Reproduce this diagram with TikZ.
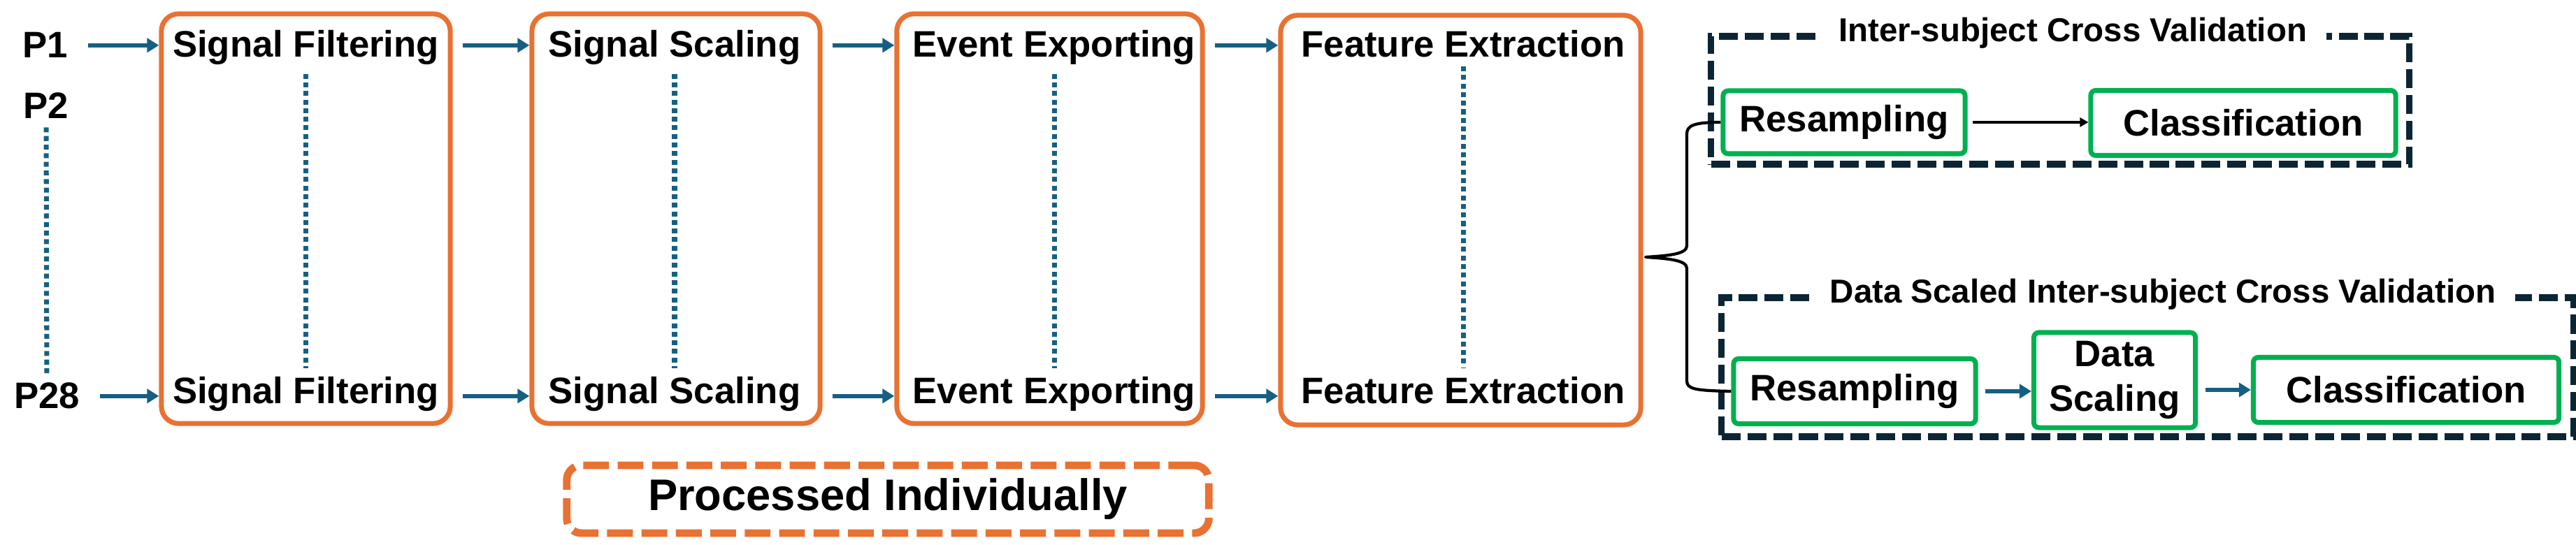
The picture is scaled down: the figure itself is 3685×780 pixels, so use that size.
\documentclass[tikz,border=0pt]{standalone}
\usepackage{fontspec}
\setmainfont{Liberation Sans}
\usetikzlibrary{arrows.meta, positioning}
\definecolor{stageorange}{HTML}{E97132}
\definecolor{flowblue}{HTML}{156082}
\definecolor{boxgreen}{HTML}{00B050}
\definecolor{framenavy}{HTML}{0B2535}
\tikzset{
  lbl/.style={font=\fontsize{15}{18}\selectfont\bfseries},
  pl/.style={lbl, inner xsep=8pt},
  stage/.style={draw=stageorange, line width=2pt, rounded corners=7pt,
                minimum height=5.86cm},
  fl/.style={-{Triangle[length=0.17cm, width=0.2cm]}, flowblue, line width=1.7pt},
  bk/.style={-{Triangle[length=0.12cm, width=0.13cm]}, black, line width=1.1pt},
  dots/.style={flowblue, line width=2pt, dash pattern=on 2pt off 1.5pt},
  gb/.style={draw=boxgreen, line width=2pt, rounded corners=2pt, lbl,
             align=center, inner sep=0pt},
  cv/.style={draw=framenavy, line width=2.6pt, dash pattern=on 7.7pt off 2.8pt},
  cvlbl/.style={fill=white, inner xsep=8pt, inner ysep=1pt,
                font=\fontsize{13.5}{16}\selectfont\bfseries},
  brc/.style={black, line width=1.2pt, line join=round},
  pi/.style={draw=stageorange, line width=3.1pt, rounded corners=6pt,
             dash pattern=on 10.5pt off 3.5pt,
             font=\fontsize{18}{21}\selectfont\bfseries},
}
\begin{document}
\begin{tikzpicture}[x=0.01cm, y=-0.01cm]
  \useasboundingbox (0,0) rectangle (3685,780);

  % participants
  \node[pl, anchor=base] (p1) at (65,83) {P1};
  \node[pl, anchor=base] (p2) at (66,170) {P2};
  \node[pl, anchor=base] (p28) at (67,585) {P28};
  \draw[dots] (p2) -- (p28);

  % processing stages
  \node[stage, minimum width=4.13cm] (box1) at (437.5,313) {};
  \node[stage, minimum width=4.12cm] (box2) at (967,313) {};
  \node[stage, minimum width=4.37cm] (box3) at (1501.5,313) {};
  \node[stage, minimum width=5.15cm] (box4) at (2089.5,315) {};

  \node[lbl, anchor=base] (sf1) at (437.5,82) {Signal Filtering};
  \node[lbl, anchor=base] (sf2) at (437.5,578) {Signal Filtering};
  \node[lbl, anchor=base] (ss1) at (965,82) {Signal Scaling};
  \node[lbl, anchor=base] (ss2) at (965,578) {Signal Scaling};
  \node[lbl, anchor=base] (ee1) at (1508,82) {Event Exporting};
  \node[lbl, anchor=base] (ee2) at (1508,578) {Event Exporting};
  \node[lbl, anchor=base] (fe1) at (2093,82) {Feature Extraction};
  \node[lbl, anchor=base] (fe2) at (2093,578) {Feature Extraction};

  \draw[dots] (sf1) -- (sf2);
  \draw[dots] (ss1) -- (ss2);
  \draw[dots] (ee1) -- (ee2);
  \draw[dots] (fe1) -- (fe2);

  \draw[fl] (p1) -- (p1 -| box1.west);
  \draw[fl] (p28) -- (p28 -| box1.west);
  \draw[fl, shorten <=4pt] (box1.east |- p1) -- (box2.west |- p1);
  \draw[fl, shorten <=4pt] (box1.east |- p28) -- (box2.west |- p28);
  \draw[fl, shorten <=4pt] (box2.east |- p1) -- (box3.west |- p1);
  \draw[fl, shorten <=4pt] (box2.east |- p28) -- (box3.west |- p28);
  \draw[fl, shorten <=4pt] (box3.east |- p1) -- (box4.west |- p1);
  \draw[fl, shorten <=4pt] (box3.east |- p28) -- (box4.west |- p28);

  \node[pi, minimum width=9.18cm, minimum height=0.97cm] (proc) at (1270,714.5)
    {Processed Individually};

  % cross validation variants
  \node[cv, minimum width=9.98cm, minimum height=1.83cm] (cv1) at (2947,143.5) {};
  \node[cvlbl] (cv1t) at ([xshift=0.18cm]cv1.north) {Inter-subject Cross Validation};
  \node[gb, minimum width=3.46cm, minimum height=0.9cm] (rs1) at (2638,175) {Resampling};
  \node[gb, minimum width=4.36cm, minimum height=0.93cm] (cl1) at (3209,176) {Classification};
  \draw[bk, shorten <=2pt] (rs1.east) -- (rs1.east -| cl1.west);

  \node[cv, minimum width=12.18cm, minimum height=1.99cm] (cv2) at (3072,525.5) {};
  \node[cvlbl] (cv2t) at ([xshift=0.22cm]cv2.north) {Data Scaled Inter-subject Cross Validation};
  \node[gb, minimum width=3.46cm, minimum height=0.93cm] (rs2) at (2653,560) {Resampling};
  \node[gb, minimum width=2.31cm, minimum height=1.36cm] (ds) at (3025,544)
    {\fontsize{15}{20}\selectfont Data\\Scaling};
  \node[gb, minimum width=4.37cm, minimum height=0.93cm] (cl2) at (3442,558) {Classification};
  \draw[fl, shorten <=3pt] (rs2.east) -- (rs2.east -| ds.west);
  \draw[fl, shorten <=3pt] (ds.east |- cl2) -- (cl2.west);

  % brace
  \coordinate (brtip) at (2354,368);
  \draw[brc] (rs1.west) .. controls (2422,175) and (2413,180) .. (2413,192)
    -- (2413,352) .. controls (2413,364) and (2385,366) .. (brtip)
    .. controls (2385,370) and (2413,372) .. (2413,384)
    -- (2413,545) .. controls (2413,557) and (2425,559) .. (rs2.west);
\end{tikzpicture}
\end{document}
